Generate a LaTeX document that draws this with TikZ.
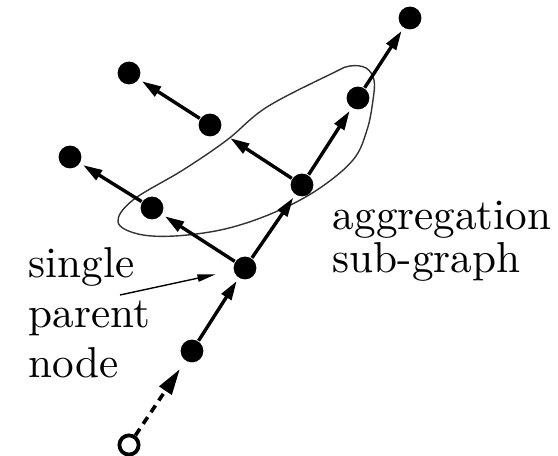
\documentclass[tikz,border=0pt]{standalone}
\usetikzlibrary{arrows.meta}
\begin{document}
\begin{tikzpicture}[x=0.25pt,y=-0.25pt,
  dot/.style={circle,fill=black,minimum size=5.7pt,inner sep=0pt},
  opendot/.style={circle,draw=black,line width=0.95pt,fill=white,minimum size=4.8pt,inner sep=0pt},
  edge/.style={line width=0.85pt,-{Triangle[length=4.8pt,width=2.8pt]},shorten >=0.8pt},
  dashedge/.style={line width=0.9pt,dash pattern=on 2pt off 1.5pt,-{Triangle[length=6.5pt,width=3.6pt]},shorten >=2.4pt},
  pointer/.style={line width=0.35pt,-{Triangle[length=4.5pt,width=1.8pt]},shorten >=4.5pt},
  lbl/.style={anchor=base west,inner sep=0pt,font=\fontsize{10.8}{13}\selectfont},
  blob/.style={line width=0.35pt,draw=black!80}]
\useasboundingbox (0,0) rectangle (558,456);
% aggregation sub-graph outline
\draw[blob] plot[smooth cycle,tension=0.6] coordinates {
 (118,222) (138,234) (175,236) (225,229) (273,213) (317,190) (353,160)
 (367,130) (373,100) (374,80) (366,68) (350,66) (333,73) (267,107)
 (227,140) (183,170) (133,200)};
% nodes
\node[dot] (T) at (410,18) {};
\node[dot] (R) at (358,98) {};
\node[dot] (TL) at (129,73) {};
\node[dot] (M) at (210,125) {};
\node[dot] (L1) at (70,157) {};
\node[dot] (C) at (302,185) {};
\node[dot] (L2) at (152,208) {};
\node[dot] (P) at (245,268) {};
\node[dot] (B) at (192,351) {};
\node[opendot] (O) at (129,445) {};
% edges
\draw[dashedge] (O) -- (B);
\draw[edge] (B) -- (P);
\draw[edge] (P) -- (C);
\draw[edge] (C) -- (R);
\draw[edge] (R) -- (T);
\draw[edge] (P) -- (L2);
\draw[edge] (L2) -- (L1);
\draw[edge,shorten >=3pt] (C) -- (M);
\draw[edge] (M) -- (TL);
% labels
\node[lbl] (s1) at (28,278) {single};
\node[lbl] (s2) at (28,328) {parent};
\node[lbl] (s3) at (28,378) {node};
\node[lbl] (a1) at (332,230) {aggregation};
\node[lbl] (a2) at (332,273) {sub-graph};
\coordinate (ptr) at (120,295);
\draw[pointer] (ptr) -- (P);
\end{tikzpicture}
\end{document}
